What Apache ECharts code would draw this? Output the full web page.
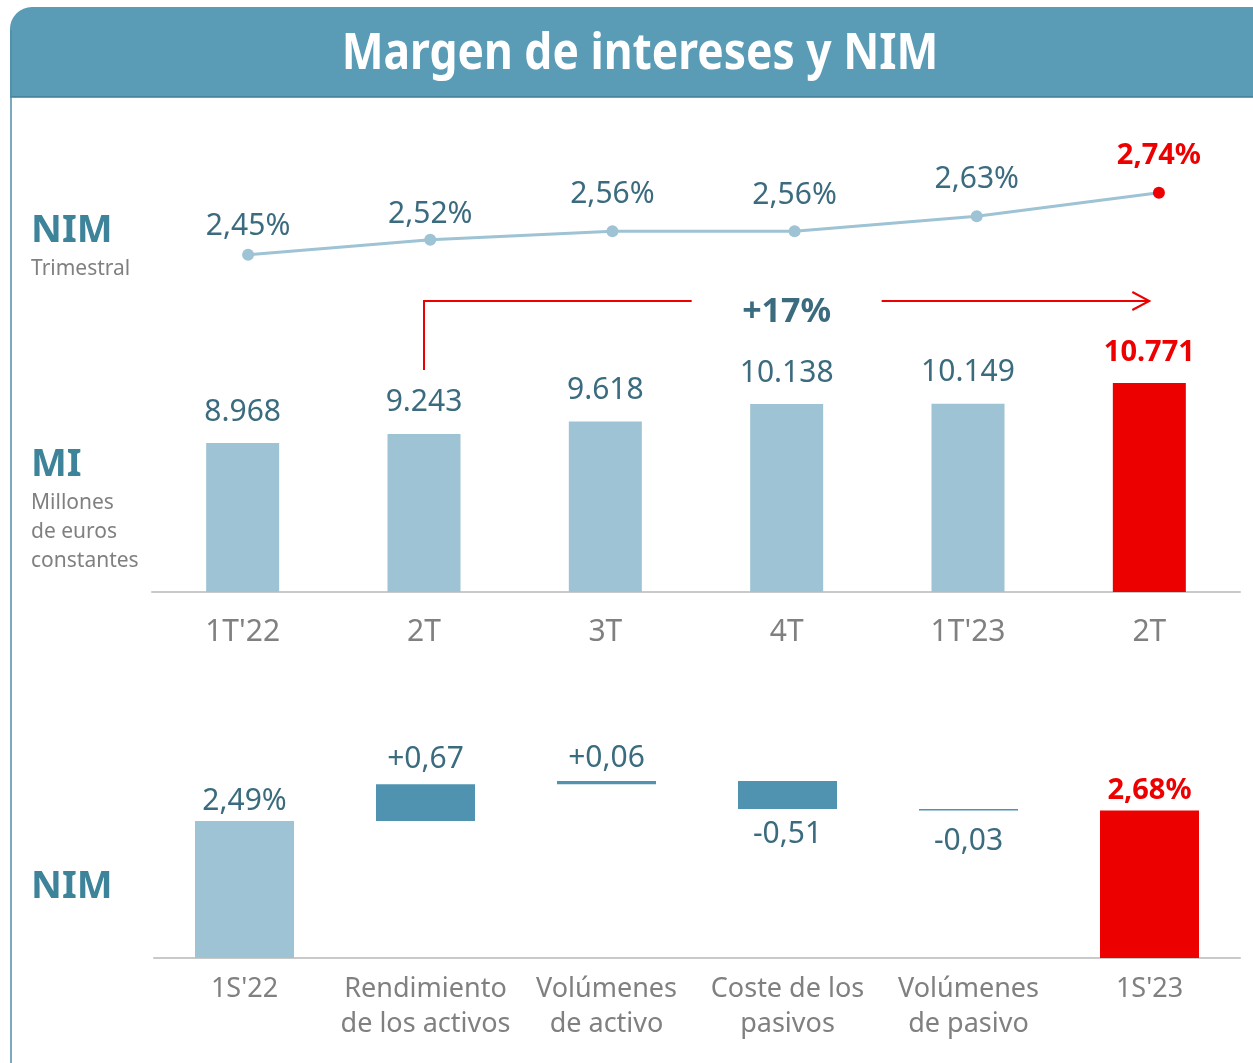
<!doctype html>
<html lang="es">
<head>
<meta charset="UTF-8">
<title>Margen de intereses y NIM</title>
<script src="https://cdn.jsdelivr.net/npm/echarts@6/dist/echarts.min.js"></script>
<style>
  html, body { margin: 0; padding: 0; background: #fff; }
  #main { width: 1253px; height: 1063px; }
</style>
</head>
<body>
<div id="main"></div>
<script>
// datos
var quarters = ["1T'22", "2T", "3T", "4T", "1T'23", "2T"];
var nimQuarter = [2.45, 2.52, 2.56, 2.56, 2.63, 2.74];
var miValues = [8968, 9243, 9618, 10138, 10149, 10771];
var bridgeCats = ["1S'22", "Rendimiento\nde los activos", "Volúmenes\nde activo", "Coste de los\npasivos", "Volúmenes\nde pasivo", "1S'23"];
var nimStart = 2.49;
var nimDrivers = [0.67, 0.06, -0.51, -0.03];
var nimEnd = 2.68;

// separacion de las etiquetas del NIM trimestral (estilo, no datos)
var nimLabelGap = [7, 4, 16, 15, 16, 16];

var FONT = '"Noto Sans", sans-serif';
var TEAL = '#3b6b7e';
var LIGHT = '#9dc3d4';
var DARK = '#4f93b0';
var RED = '#ec0000';
var GREY = '#808080';

function pct(v) { return v.toFixed(2).replace('.', ',') + '%'; }
function miles(v) { return String(v).replace(/\B(?=(\d{3})+(?!\d))/g, '.'); }
function signed(v) { return (v > 0 ? '+' : '-') + Math.abs(v).toFixed(2).replace('.', ','); }

// waterfall: base invisible + tramo visible
var wfBase = [0], wfDelta = [], level = nimStart;
wfDelta.push({ value: nimStart, itemStyle: { color: LIGHT },
  label: { show: true, position: 'top', distance: 5, formatter: pct(nimStart) } });
nimDrivers.forEach(function (d) {
  var small = Math.abs(d) < 0.1;
  wfBase.push(Math.min(level, level + d));
  wfDelta.push({
    value: Math.abs(d),
    itemStyle: { color: DARK },
    label: { show: true, position: d > 0 ? 'top' : 'bottom',
      distance: d > 0 ? (small ? 7 : 10) : (small ? 16 : 11), formatter: signed(d) }
  });
  level += d;
});
wfBase.push(0);
wfDelta.push({ value: nimEnd, itemStyle: { color: RED },
  label: { show: true, position: 'top', distance: 5, formatter: pct(nimEnd), color: RED, fontWeight: 'bold', fontSize: 29 } });

var lineData = nimQuarter.map(function (v, i) {
  var item = { value: v, label: { distance: nimLabelGap[i] } };
  if (i === nimQuarter.length - 1) {
    item.itemStyle = { color: RED };
    item.label.color = RED;
    item.label.fontWeight = 'bold';
    item.label.fontSize = 29;
  }
  return item;
});
var barData = miValues.map(function (v, i) {
  if (i === miValues.length - 1) {
    return { value: v, itemStyle: { color: RED }, label: { color: RED, fontWeight: 'bold', fontSize: 29 } };
  }
  return v;
});

var chart = echarts.init(document.getElementById('main'));

var option = {
  animation: false,
  backgroundColor: '#fff',
  textStyle: { fontFamily: FONT },
  grid: [
    { left: 157, right: 3, top: 137, height: 214 },
    { left: 152, right: 13, top: 342, height: 250 },
    { left: 154, right: 13, top: 738, height: 220 }
  ],
  xAxis: [
    { gridIndex: 0, type: 'category', data: quarters, show: false },
    { gridIndex: 1, type: 'category', data: quarters,
      axisLine: { lineStyle: { color: '#c9c9c9', width: 2 } }, axisTick: { show: false },
      axisLabel: { color: GREY, fontSize: 30, margin: 25, fontFamily: FONT } },
    { gridIndex: 2, type: 'category', data: bridgeCats,
      axisLine: { lineStyle: { color: '#c9c9c9', width: 2 } }, axisTick: { show: false },
      axisLabel: { color: GREY, fontSize: 27, lineHeight: 35, margin: 14, interval: 0, fontFamily: FONT } }
  ],
  yAxis: [
    { gridIndex: 0, type: 'value', min: 2, max: 3, show: false },
    { gridIndex: 1, type: 'value', min: 4500, max: 12000, show: false },
    { gridIndex: 2, type: 'value', min: 0, max: 4, show: false }
  ],
  series: [
    { type: 'line', xAxisIndex: 0, yAxisIndex: 0, data: lineData,
      symbol: 'circle', symbolSize: 12,
      lineStyle: { color: LIGHT, width: 3 }, itemStyle: { color: LIGHT },
      label: { show: true, position: 'top', fontSize: 30, color: TEAL, fontFamily: FONT,
        formatter: function (p) { return pct(p.value); } } },
    { type: 'bar', xAxisIndex: 1, yAxisIndex: 1, data: barData, barWidth: 73,
      itemStyle: { color: LIGHT },
      label: { show: true, position: 'top', distance: 16, fontSize: 30, color: TEAL, fontFamily: FONT,
        formatter: function (p) { return miles(p.value); } } },
    { type: 'bar', xAxisIndex: 2, yAxisIndex: 2, stack: 'nim', data: wfBase, barWidth: 99,
      itemStyle: { color: 'transparent' }, silent: true },
    { type: 'bar', xAxisIndex: 2, yAxisIndex: 2, stack: 'nim', data: wfDelta, barWidth: 99,
      label: { fontSize: 30, color: TEAL, fontFamily: FONT } }
  ],
  graphic: [
    { type: 'rect', shape: { x: 10, y: 7, width: 1260, height: 90, r: [22, 0, 0, 0] },
      style: { fill: '#5a9bb6' } },
    { type: 'line', shape: { x1: 10, y1: 97, x2: 1253, y2: 97 }, style: { stroke: '#3f7d96', lineWidth: 1.5 } },
    { type: 'line', shape: { x1: 11, y1: 30, x2: 11, y2: 1063 }, style: { stroke: '#4f8ea8', lineWidth: 1.5 } },
    { type: 'text', x: 640, y: 54, scaleX: 0.87, style: { text: 'Margen de intereses y NIM', fill: '#fff',
      font: 'bold 51px ' + FONT, textAlign: 'center', textVerticalAlign: 'middle' } },
    { type: 'text', x: 31, y: 231, style: { text: 'NIM', fill: '#3d8399', font: 'bold 38px ' + FONT, textVerticalAlign: 'middle' } },
    { type: 'text', x: 31, y: 269, style: { text: 'Trimestral', fill: GREY, font: '21px ' + FONT, textVerticalAlign: 'middle' } },
    { type: 'text', x: 31, y: 465, style: { text: 'MI', fill: '#3d8399', font: 'bold 38px ' + FONT, textVerticalAlign: 'middle' } },
    { type: 'text', x: 31, y: 503, style: { text: 'Millones', fill: GREY, font: '21px ' + FONT, textVerticalAlign: 'middle' } },
    { type: 'text', x: 31, y: 532, style: { text: 'de euros', fill: GREY, font: '21px ' + FONT, textVerticalAlign: 'middle' } },
    { type: 'text', x: 31, y: 561, style: { text: 'constantes', fill: GREY, font: '21px ' + FONT, textVerticalAlign: 'middle' } },
    { type: 'text', x: 31, y: 887, style: { text: 'NIM', fill: '#3d8399', font: 'bold 38px ' + FONT, textVerticalAlign: 'middle' } }
  ]
};
chart.setOption(option);

// flecha de crecimiento 2T'22 -> 2T'23, colocada con las escalas del eje
var pStart = chart.convertToPixel({ gridIndex: 1 }, [1, miValues[1]]);
var pEnd = chart.convertToPixel({ gridIndex: 1 }, [miValues.length - 1, miValues[miValues.length - 1]]);
var growth = Math.round((miValues[miValues.length - 1] / miValues[1] - 1) * 100);
var yArrow = 301;
var midX = (pStart[0] + pEnd[0]) / 2;
var gap = 95;
var arrowStyle = { stroke: RED, lineWidth: 2, fill: null };
chart.setOption({
  graphic: option.graphic.concat([
    { type: 'polyline', shape: { points: [[pStart[0], pStart[1] - 64], [pStart[0], yArrow], [midX - gap, yArrow]] }, style: arrowStyle },
    { type: 'line', shape: { x1: midX + gap, y1: yArrow, x2: pEnd[0], y2: yArrow }, style: arrowStyle },
    { type: 'polyline', shape: { points: [[pEnd[0] - 17, yArrow - 9], [pEnd[0], yArrow], [pEnd[0] - 17, yArrow + 9]] }, style: arrowStyle },
    { type: 'text', x: midX, y: yArrow + 11, style: { text: '+' + growth + '%', fill: TEAL,
      font: 'bold 34px ' + FONT, textAlign: 'center', textVerticalAlign: 'middle' } }
  ])
});
</script>
</body>
</html>
